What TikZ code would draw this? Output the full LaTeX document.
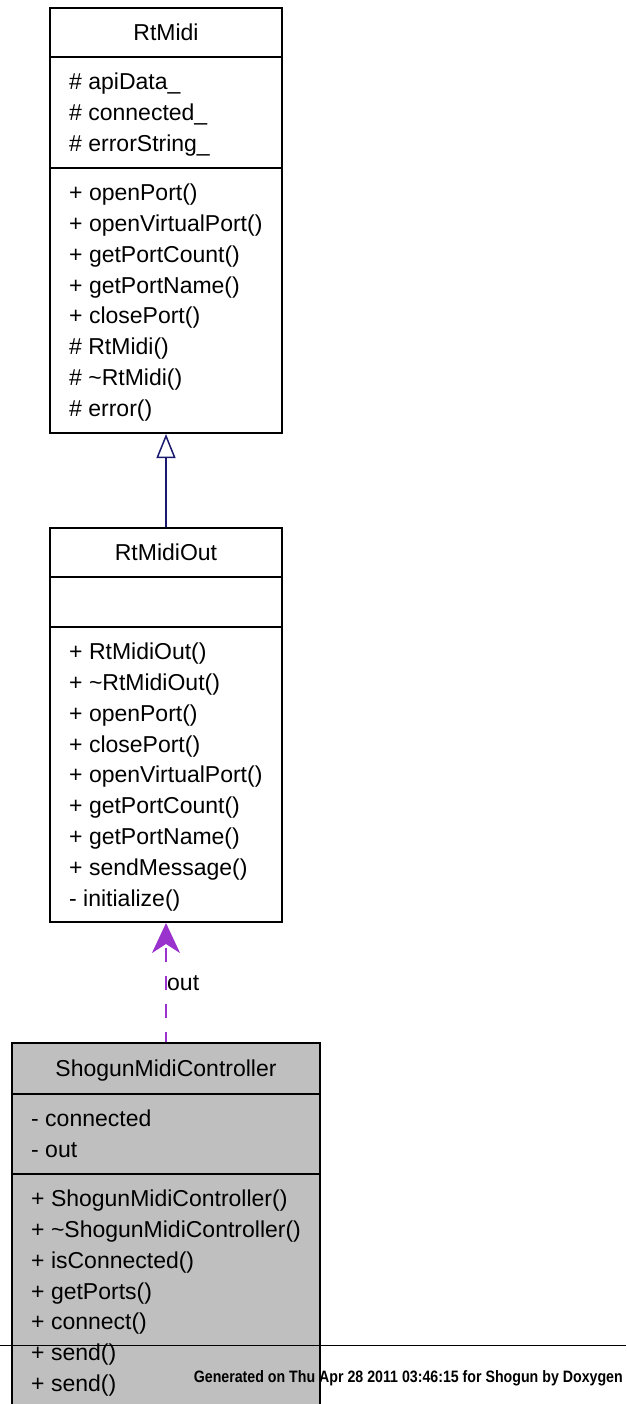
\documentclass[tikz,border=0pt]{standalone}
\usepackage{fontspec}
\setmainfont{Liberation Sans}
\newfontfamily\footfont[FakeStretch=0.86]{Liberation Sans}
\usetikzlibrary{arrows.meta}

\definecolor{inhblue}{HTML}{191970}
\definecolor{usepurple}{HTML}{9A32CD}
\definecolor{classgray}{HTML}{BFBFBF}

\begin{document}
\begin{tikzpicture}[x=1pt, y=-1pt]
    \tikzstyle{classbox} = [shape=rectangle, draw=black, line width=2pt, fill=white]
    \tikzstyle{title}    = [anchor=base, font=\fontsize{23}{28}\selectfont, inner sep=0pt]
    \tikzstyle{member}   = [anchor=base west, font=\fontsize{23}{28}\selectfont, inner sep=0pt]
    \useasboundingbox (0,0) rectangle (626,1404);

    % RtMidi
    \node (rtmidi) [classbox, minimum width=232pt, minimum height=425pt] at (166,220.5) {};
    \draw [line width=2pt] (rtmidi.west |- 0,57)  -- (rtmidi.east |- 0,57);
    \draw [line width=2pt] (rtmidi.west |- 0,168) -- (rtmidi.east |- 0,168);
    \node (rtmidi-name) [title] at (166,40.5) {RtMidi};
    \foreach \t [count=\i from 0] in {\# apiData\_, \# connected\_, \# errorString\_}
        \node (rtmidi-a\i) [member] at (69,89.65+30.8*\i) {\t};
    \foreach \t [count=\i from 0] in {+ openPort(), + openVirtualPort(), + getPortCount(),
            + getPortName(), + closePort(), \# RtMidi(), \# \textasciitilde RtMidi(), \# error()}
        \node (rtmidi-m\i) [member] at (69,200.65+30.8*\i) {\t};

    % RtMidiOut
    \node (rtmidiout) [classbox, minimum width=232pt, minimum height=394pt] at (166,725) {};
    \draw [line width=2pt] (rtmidiout.west |- 0,577) -- (rtmidiout.east |- 0,577);
    \draw [line width=2pt] (rtmidiout.west |- 0,627) -- (rtmidiout.east |- 0,627);
    \node (rtmidiout-name) [title] at (166,560.5) {RtMidiOut};
    \foreach \t [count=\i from 0] in {+ RtMidiOut(), + \textasciitilde RtMidiOut(), + openPort(),
            + closePort(), + openVirtualPort(), + getPortCount(), + getPortName(),
            + sendMessage(), - initialize()}
        \node (rtmidiout-m\i) [member] at (69,659.65+30.8*\i) {\t};

    % ShogunMidiController
    \node (shogun) [classbox, fill=classgray, minimum width=308pt, minimum height=365pt] at (166,1225.5) {};
    \draw [line width=2pt] (shogun.west |- 0,1094) -- (shogun.east |- 0,1094);
    \draw [line width=2pt] (shogun.west |- 0,1174) -- (shogun.east |- 0,1174);
    \node (shogun-name) [title] at (166,1076.5) {ShogunMidiController};
    \foreach \t [count=\i from 0] in {- connected, - out}
        \node (shogun-a\i) [member] at (31,1126.65+30.8*\i) {\t};
    \foreach \t [count=\i from 0] in {+ ShogunMidiController(), + \textasciitilde ShogunMidiController(),
            + isConnected(), + getPorts(), + connect(), + send(), + send()}
        \node (shogun-m\i) [member] at (31,1206.65+30.8*\i) {\t};

    % relations
    \draw [-{Triangle[open, length=24pt, width=19pt]}, inhblue, line width=1.5pt]
        (rtmidiout.north) -- (rtmidi.south);
    \draw [-{Stealth[length=30pt, width=28pt, inset=9pt]}, usepurple, line width=2pt,
        dash pattern=on 14pt off 14pt, dash phase=4pt] (shogun.north) -- (rtmidiout.south);
    \node (out-label) [member] at (167,990) {out};

    % footer
    \coordinate (foot-l) at (0,1345);
    \coordinate (foot-r) at (626,1345);
    \draw [line width=1pt] (foot-l) -- (foot-r);
    \node (footer) [anchor=base east, inner sep=0pt, font=\footfont\bfseries\fontsize{16.5}{18}\selectfont]
        at (623,1382) {Generated on Thu Apr 28 2011 03:46:15 for Shogun by Doxygen};
\end{tikzpicture}
\end{document}
